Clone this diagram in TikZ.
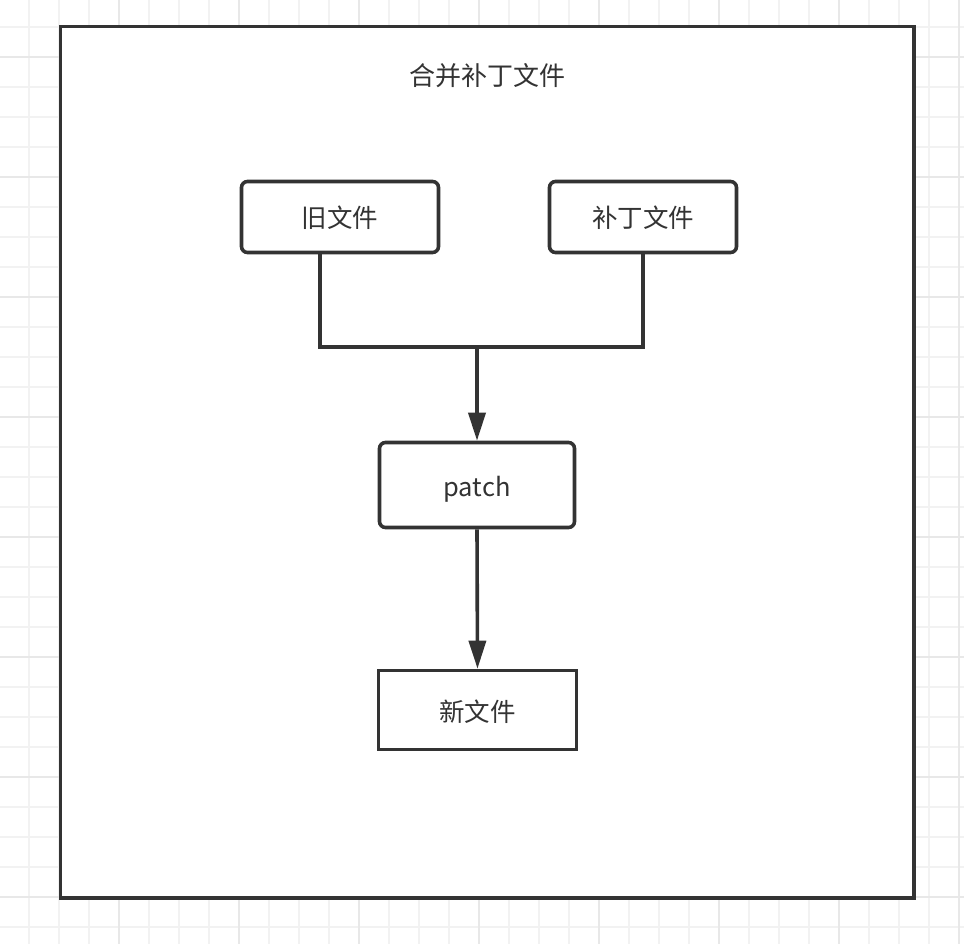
\documentclass[tikz,border=0pt]{standalone}
\usepackage{fontspec}
\setmainfont{Noto Sans CJK SC}
\usetikzlibrary{arrows.meta}
\definecolor{ink}{HTML}{333333}
\definecolor{gridminor}{HTML}{F2F2F2}
\definecolor{gridmajor}{HTML}{E8E8E8}
\tikzset{
  box/.style={draw=ink, line width=3.6pt, fill=white, rounded corners=6pt, text=ink, font=\fontsize{25.5}{30}\selectfont, inner sep=0pt, text height=22pt, text depth=0pt},
  sqbox/.style={box, rounded corners=0pt},
  conn/.style={draw=ink, line width=3.6pt},
  arr/.style={conn, -{Triangle[length=28pt,width=17pt]}}
}
\begin{document}
\begin{tikzpicture}[x=1pt,y=-1pt]
\useasboundingbox (0,0) rectangle (964,944);
\fill[white] (0,0) rectangle (964,944);
% grid
\foreach \i in {0,...,31} {
  \draw[gridminor, line width=2pt] ({29+30*\i},0) -- ({29+30*\i},944);
  \draw[gridminor, line width=2pt] (0,{27+30*\i}) -- (964,{27+30*\i});
}
\foreach \i in {0,...,8} {
  \draw[gridmajor, line width=2pt] ({-1+120*\i},0) -- ({-1+120*\i},944);
  \draw[gridmajor, line width=2pt] (0,{57+120*\i}) -- (964,{57+120*\i});
}
% outer frame
\node[sqbox, minimum width=853.5pt, minimum height=871.7pt] (frame) at (487.25,462.2) {};
\node[text=ink, font=\fontsize{26}{30}\selectfont] (title) at (487,76) {合并补丁文件};
% boxes
\node[box, minimum width=197pt, minimum height=71pt] (old) at (340,217) {旧文件};
\node[box, minimum width=187pt, minimum height=71pt] (patchfile) at (643,217) {补丁文件};
\node[box, minimum width=195pt, minimum height=85pt, text height=27pt, text depth=5pt] (patch) at (477,485) {patch};
\node[sqbox, minimum width=198pt, minimum height=79pt] (new) at (477.5,710) {新文件};
% connectors
\coordinate (j) at (477,347);
\draw[conn] (old.south -| 320,0) |- (j) -| (patchfile.south);
\draw[arr] (j) -- (patch.north);
\draw[arr] (patch.south) -- (new.north);
\end{tikzpicture}
\end{document}
